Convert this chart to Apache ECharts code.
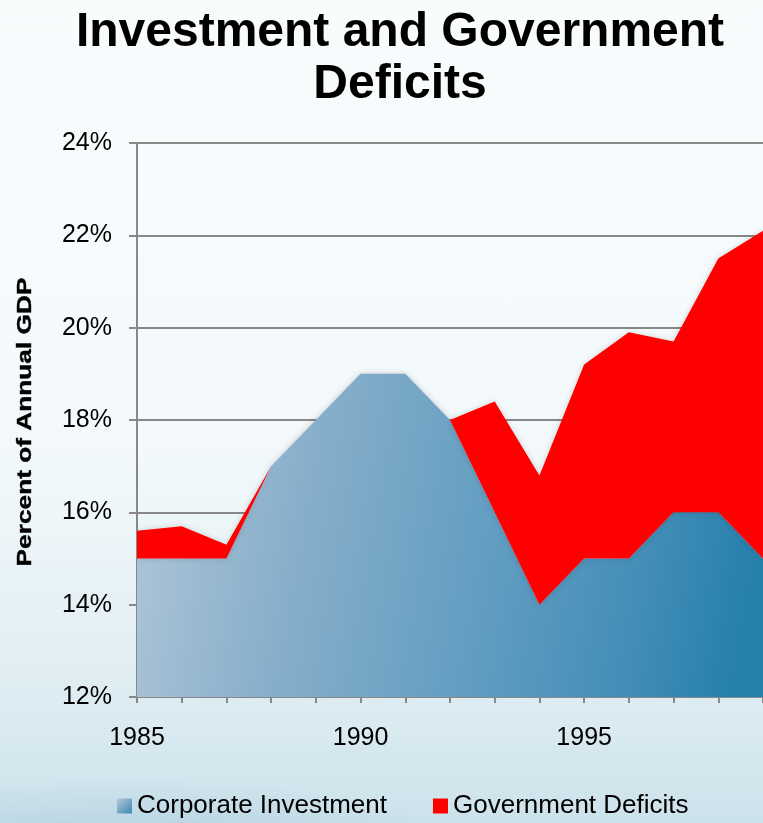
<!DOCTYPE html>
<html>
<head>
<meta charset="utf-8">
<title>Investment and Government Deficits</title>
<script src="https://cdn.jsdelivr.net/npm/echarts@6/dist/echarts.min.js"></script>
<style>
  html, body { margin: 0; padding: 0; overflow: hidden; }
  body {
    width: 763px; height: 823px;
    background:
      radial-gradient(ellipse 520px 120px at 120px 860px, rgba(120,170,195,0.35), rgba(120,170,195,0) 70%),
      linear-gradient(to bottom, #f9fcfd 0%, #f3f9fb 55%, #e0eef3 82%, #cce2eb 100%);
  }
  #chart { width: 763px; height: 823px; }
</style>
</head>
<body>
<div id="chart"></div>
<script>
// Years on the horizontal axis
const years = ['1985','1986','1987','1988','1989','1990','1991','1992','1993','1994','1995','1996','1997','1998','1999'];
// Corporate investment, percent of annual GDP
const corporateInvestment = [15, 15, 15, 17, 18, 19, 19, 18, 16, 14, 15, 15, 16, 16, 15];
// Government deficits, percent of annual GDP (stacked on top of investment)
const governmentDeficits = [0.6, 0.7, 0.3, 0, 0, 0, 0, 0, 2.4, 2.8, 4.2, 4.9, 3.7, 5.5, 7.1];
// Vertical axis range and step
const yMin = 12, yMax = 24, yStep = 2;

const chart = echarts.init(document.getElementById('chart'), null, { renderer: 'canvas' });

const blueFill = new echarts.graphic.LinearGradient(0, 0, 1, 0.35, [
  { offset: 0, color: '#b2c7d9' },
  { offset: 0.3, color: '#86aeca' },
  { offset: 0.6, color: '#629dc1' },
  { offset: 0.85, color: '#418db7' },
  { offset: 1, color: '#2880ad' }
]);
const blueIcon = new echarts.graphic.LinearGradient(0, 0, 1, 1, [
  { offset: 0, color: '#b4c8d9' },
  { offset: 1, color: '#3a89b3' }
]);

const axisGray = '#888888';
const font = '"Liberation Sans", Arial, sans-serif';

chart.setOption({
  backgroundColor: 'transparent',
  animation: false,
  graphic: [
    {
      type: 'text',
      x: 400, y: 7,
      style: {
        text: 'Investment and Government\nDeficits',
        font: 'bold 48px ' + font,
        fill: '#000',
        align: 'center', textAlign: 'center',
        verticalAlign: 'top', textVerticalAlign: 'top',
        lineHeight: 52
      }
    },
    {
      type: 'text',
      x: 25, y: 422,
      rotation: Math.PI / 2,
      scaleX: 1.25,
      style: {
        text: 'Percent of Annual GDP',
        font: 'bold 21px ' + font,
        fill: '#000',
        stroke: '#000',
        lineWidth: 0.4,
        align: 'center', textAlign: 'center',
        verticalAlign: 'middle', textVerticalAlign: 'middle'
      }
    }
  ],
  grid: { left: 137, top: 143, width: 630, height: 554, containLabel: false },
  legend: {
    left: 112,
    top: 788,
    icon: 'rect',
    itemWidth: 15,
    itemHeight: 15,
    itemGap: 46,
    textStyle: { fontFamily: font, fontSize: 26, color: '#000' },
    data: [
      { name: 'Corporate Investment', itemStyle: { color: blueIcon } },
      { name: 'Government Deficits', itemStyle: { color: '#ff0000' } }
    ]
  },
  xAxis: {
    type: 'category',
    data: years,
    boundaryGap: false,
    axisLine: { lineStyle: { color: axisGray, width: 2 } },
    axisTick: { show: true, interval: 0, length: 6, lineStyle: { color: axisGray, width: 2 } },
    axisLabel: {
      interval: 4,
      margin: 29,
      fontFamily: font,
      fontSize: 25,
      color: '#000'
    },
    splitLine: { show: false }
  },
  yAxis: {
    type: 'value',
    min: yMin,
    max: yMax,
    interval: yStep,
    axisLine: { show: true, lineStyle: { color: axisGray, width: 2 } },
    axisTick: { show: true, length: 8, lineStyle: { color: axisGray, width: 2 } },
    axisLabel: {
      formatter: '{value}%',
      margin: 25,
      fontFamily: font,
      fontSize: 25,
      color: '#000'
    },
    splitLine: { show: true, lineStyle: { color: axisGray, width: 2 } }
  },
  series: [
    {
      name: 'Corporate Investment',
      type: 'line',
      stack: 'total',
      data: corporateInvestment,
      symbol: 'none',
      lineStyle: { width: 0 },
      itemStyle: { color: blueIcon },
      areaStyle: {
        color: blueFill,
        opacity: 1,
        shadowBlur: 6,
        shadowColor: 'rgba(0,0,0,0.18)'
      }
    },
    {
      name: 'Government Deficits',
      type: 'line',
      stack: 'total',
      data: governmentDeficits,
      symbol: 'none',
      lineStyle: { width: 0 },
      itemStyle: { color: '#ff0000' },
      areaStyle: {
        color: '#ff0000',
        opacity: 1,
        shadowBlur: 6,
        shadowColor: 'rgba(0,0,0,0.15)'
      }
    }
  ]
});
</script>
</body>
</html>
